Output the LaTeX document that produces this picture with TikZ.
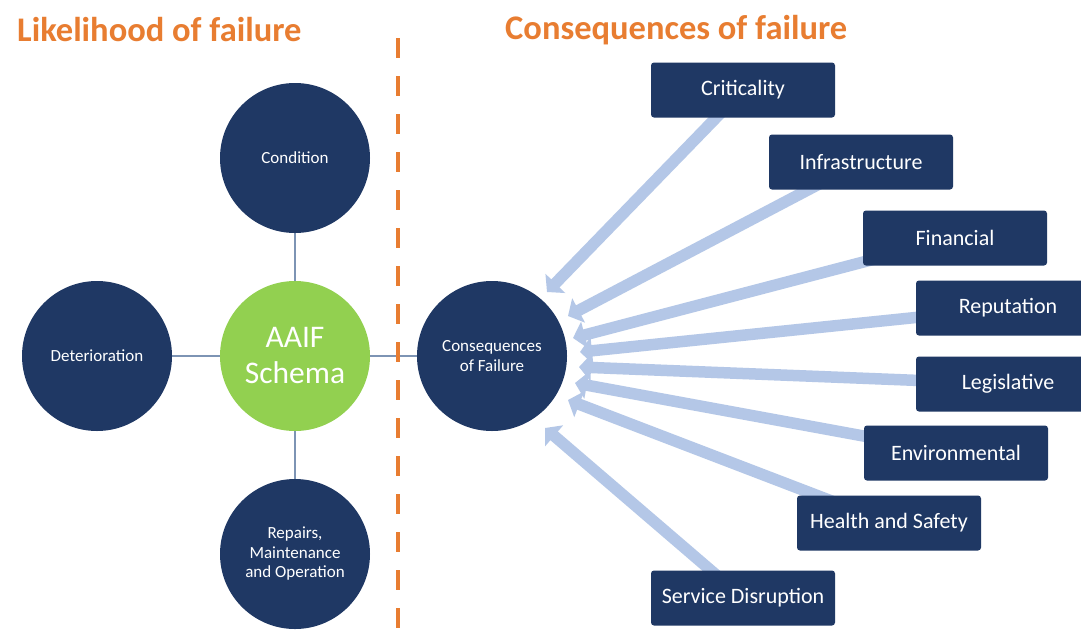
\documentclass[tikz,border=0pt]{standalone}
\usepackage{fontspec}
\setmainfont{Carlito}
\usetikzlibrary{arrows.meta}
\pgfdeclarelayer{back}
\pgfdeclarelayer{bg}
\pgfsetlayers{back,bg,main}
\definecolor{navy}{RGB}{31,56,100}
\definecolor{lgreen}{RGB}{146,208,80}
\definecolor{orng}{RGB}{232,125,49}
\definecolor{arrowblue}{RGB}{180,199,231}
\definecolor{linkblue}{RGB}{125,148,180}
\begin{document}
\begin{tikzpicture}[x=1pt,y=-1pt,
  titletext/.style={text=orng,font=\fontsize{34.5}{40}\selectfont\bfseries,inner sep=0pt,anchor=west},
  dcirc/.style={circle,fill=navy,minimum size=150pt,inner sep=0pt,text=white,align=center,font=\fontsize{17}{19.5}\selectfont},
  gcirc/.style={circle,fill=lgreen,minimum size=150pt,inner sep=0pt,text=white,align=center,font=\fontsize{31.5}{36}\selectfont},
  cbox/.style={rectangle,rounded corners=3pt,fill=navy,minimum width=184pt,minimum height=55pt,text=white,font=\fontsize{22}{24}\selectfont},
  link/.style={draw=linkblue,line width=1.5pt},
  bigarrow/.style={draw=arrowblue,line width=11.5pt,-{Triangle[width=27pt,length=12pt]}},
  dashline/.style={draw=orng,line width=4.5pt,dash pattern=on 20pt off 18pt}
]
\clip (0,0) rectangle (1081,638);
\begin{pgfonlayer}{back}
\fill[white] (0,0) rectangle (1081,638);
\end{pgfonlayer}

% titles
\node[titletext] (tleft) at (17,30) {Likelihood of failure};
\node[titletext] (tright) at (505,30) {Consequences of failure};

% circles
\node[dcirc] (cond) at (295,158) {Condition};
\node[dcirc] (det) at (97,356) {Deterioration};
\node[gcirc] (aaif) at (295,356) {AAIF\\Schema};
\node[dcirc] (rmo) at (295,554) {Repairs,\\Maintenance\\and Operation};
\node[dcirc] (cof) at (492,356) {Consequences\\of Failure};

% links
\begin{pgfonlayer}{bg}
\draw[link] (cond) -- (aaif);
\draw[link] (det) -- (aaif);
\draw[link] (aaif) -- (rmo);
\draw[link] (aaif) -- (cof);
\end{pgfonlayer}

% dashed divider
\coordinate (dtop) at (398,38);
\coordinate (dbot) at (398,640);
\draw[dashline] (dtop) -- (dbot);

% boxes
\node[cbox] (crit) at (743,90) {Criticality};
\node[cbox] (infra) at (861,162) {Infrastructure};
\node[cbox] (fin) at (955,238) {Financial};
\node[cbox] (repu) at (1008,308) {Reputation};
\node[cbox] (legi) at (1008,384) {Legislative};
\node[cbox] (env) at (956,453) {Environmental};
\node[cbox] (hs) at (889,523) {Health and Safety};
\node[cbox] (sd) at (743,598) {Service Disruption};

% arrow tips
\coordinate (a1) at (547,292);
\coordinate (a2) at (568,316);
\coordinate (a3) at (573,338);
\coordinate (a4) at (580,352);
\coordinate (a5) at (579,367);
\coordinate (a6) at (575,383);
\coordinate (a7) at (568,400);
\coordinate (a8) at (545,428);

\begin{pgfonlayer}{bg}
\draw[bigarrow] (crit.center) -- (a1);
\draw[bigarrow] (infra.center) -- (a2);
\draw[bigarrow] (fin.center) -- (a3);
\draw[bigarrow] (repu.center) -- (a4);
\draw[bigarrow] (legi.center) -- (a5);
\draw[bigarrow] (env.center) -- (a6);
\draw[bigarrow] (hs.center) -- (a7);
\draw[bigarrow] (sd.center) -- (a8);
\end{pgfonlayer}
\end{tikzpicture}
\end{document}
